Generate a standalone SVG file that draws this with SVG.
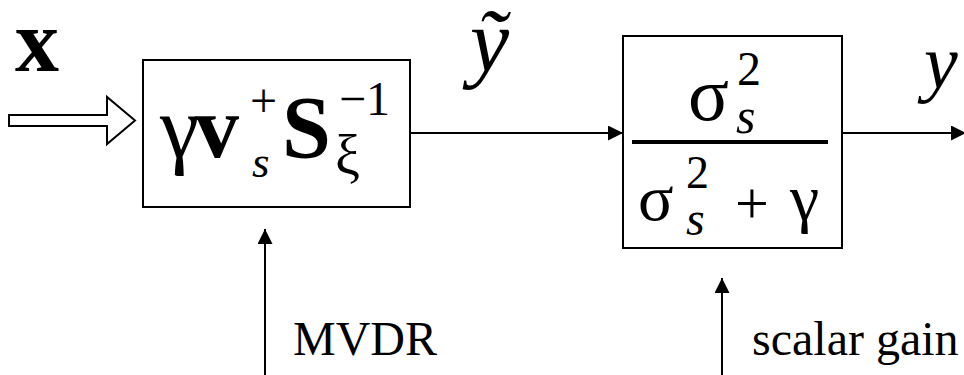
<svg xmlns="http://www.w3.org/2000/svg" width="964" height="375" viewBox="0 0 964 375">
<style>
text{font-family:'Liberation Serif','Times New Roman',serif;fill:#000}
.b{font-weight:bold}
.i{font-style:italic}
.box{fill:#fff;stroke:#000;stroke-width:2}
.ln{stroke:#000;stroke-width:2;fill:none}
</style>
<defs>
<marker id="ah" markerWidth="15" markerHeight="15" refX="15" refY="7.5" orient="auto" markerUnits="userSpaceOnUse">
<path d="M0,0 L15,7.5 L0,15 Z" fill="#000"/>
</marker>
</defs>
<rect width="964" height="375" fill="#fff"/>
<g id="connectors">
<polygon points="9,115 107,115 107,97 135,120.5 107,144 107,126 9,126" fill="#fff" stroke="#000" stroke-width="2"/>
<line class="ln" x1="410" y1="133" x2="623" y2="133" marker-end="url(#ah)"/>
<line class="ln" x1="842" y1="133" x2="966" y2="133" marker-end="url(#ah)"/>
<line class="ln" x1="265" y1="375" x2="265" y2="229" marker-end="url(#ah)"/>
<line class="ln" x1="722" y1="375" x2="722" y2="278" marker-end="url(#ah)"/>
</g>
<g id="label-x"><text class="b" x="15" y="71" font-size="88">x</text></g>
<g id="mvdr-block">
<rect class="box" x="143" y="60" width="267" height="147"/>
<text x="160" y="157" font-size="88">γ<tspan class="b" x="195">v</tspan><tspan x="250" y="117" font-size="48">+</tspan><tspan class="i" x="252" y="177" font-size="45">s</tspan><tspan class="b" x="282" y="157">S</tspan><tspan x="339" y="115" font-size="48">−1</tspan><tspan x="335" y="174" font-size="56">ξ</tspan></text>
</g>
<g id="label-ytilde"><text class="i" x="470" y="71" font-size="88">ỹ</text></g>
<g id="gain-block">
<rect class="box" x="623" y="36" width="219" height="212"/>
<text x="688" y="120" font-size="76">σ<tspan x="737" y="85" font-size="48">2</tspan><tspan class="i" x="736" y="133" font-size="50">s</tspan></text>
<line x1="632" y1="142" x2="828" y2="142" stroke="#000" stroke-width="4"/>
<text x="638" y="220" font-size="66">σ<tspan x="686" y="188" font-size="46">2</tspan><tspan class="i" x="686" y="235" font-size="48">s</tspan><tspan x="735" y="223" font-size="60">+</tspan><tspan x="790" y="220">γ</tspan></text>
</g>
<g id="label-y"><text class="i" x="924" y="88" font-size="76">y</text></g>
<g id="label-mvdr"><text x="293" y="355" font-size="48">MVDR</text></g>
<g id="label-gain"><text x="752" y="355" font-size="48">scalar gain</text></g>
</svg>
